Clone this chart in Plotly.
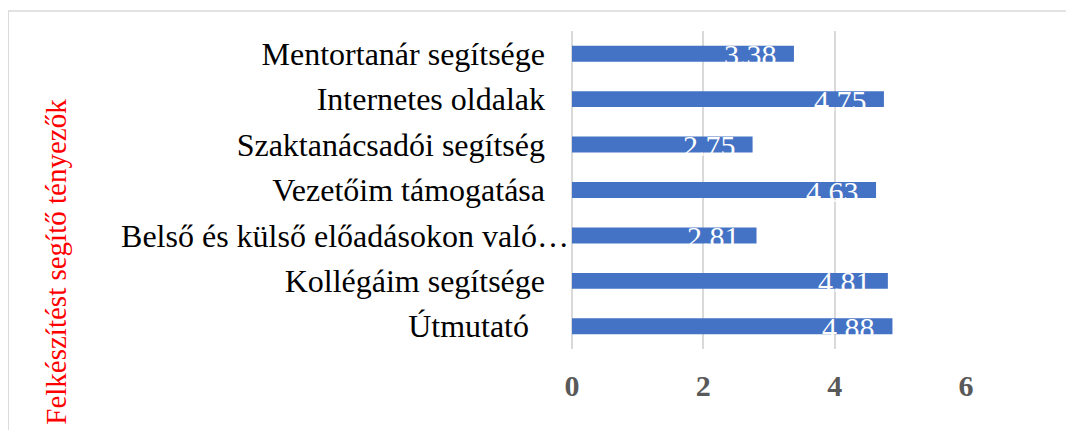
import plotly.graph_objects as go

categories = [
    "Mentortanár segítsége",
    "Internetes oldalak",
    "Szaktanácsadói segítség",
    "Vezetőim támogatása",
    "Belső és külső előadásokon való…",
    "Kollégáim segítsége",
    "Útmutató",
]
values = [3.38, 4.75, 2.75, 4.63, 2.81, 4.81, 4.88]
x_ticks = [0, 2, 4, 6]
axis_title = "Felkészítést segítő tényezők"

SERIF = "Liberation Serif, Times New Roman, serif"
NB = "\u00a0"
# Excel lets the truncated label run up to the axis; the others keep a gap
tick_text = []
for c in categories:
    if c.endswith("…"):
        tick_text.append(c)
    elif c == "Útmutató":
        tick_text.append(c + NB * 5)
    else:
        tick_text.append(c + NB * 3)

fig = go.Figure()
fig.add_trace(go.Bar(
    x=values, y=categories, orientation="h",
    marker=dict(color="#4472C4", line=dict(width=0)),
    hoverinfo="skip",
))

for c, v in zip(categories, values):
    fig.add_annotation(
        x=v, y=c, xref="x", yref="y", text=f"{v:.2f}",
        showarrow=False, xanchor="right", yanchor="middle",
        xshift=-15, yshift=-1,
        font=dict(family=SERIF, size=30, color="white"),
    )

fig.add_annotation(
    x=-1.31, y=0.274, xref="paper", yref="paper",
    text=axis_title, textangle=-90, showarrow=False,
    xanchor="center", yanchor="middle",
    font=dict(family=SERIF, size=29, color="#FF0000"),
)

fig.add_shape(
    type="rect", xref="paper", yref="paper",
    x0=-1.431, x1=1.3, y0=-0.32, y1=1.063,
    line=dict(color="#D9D9D9", width=1.5), fillcolor="rgba(0,0,0,0)",
    layer="below",
)

fig.update_layout(
    width=1058, height=422,
    margin=dict(l=564, r=100, t=23, b=81),
    paper_bgcolor="white", plot_bgcolor="white",
    bargap=0.65, showlegend=False,
    xaxis=dict(
        range=[0, 6], tickvals=x_ticks, showgrid=True,
        gridcolor="#D9D9D9", gridwidth=1.5,
        zeroline=True, zerolinecolor="#D9D9D9", zerolinewidth=1.5,
        showline=False, ticks="", ticklabelstandoff=16,
        tickfont=dict(family=SERIF, size=30, color="#595959", weight="bold"),
        fixedrange=True,
    ),
    yaxis=dict(
        autorange="reversed", showgrid=False, showline=False, ticks="",
        tickmode="array", tickvals=categories, ticktext=tick_text,
        ticklabelstandoff=2,
        tickfont=dict(family=SERIF, size=32, color="black"),
        fixedrange=True,
    ),
)

fig.write_html("out.html")
